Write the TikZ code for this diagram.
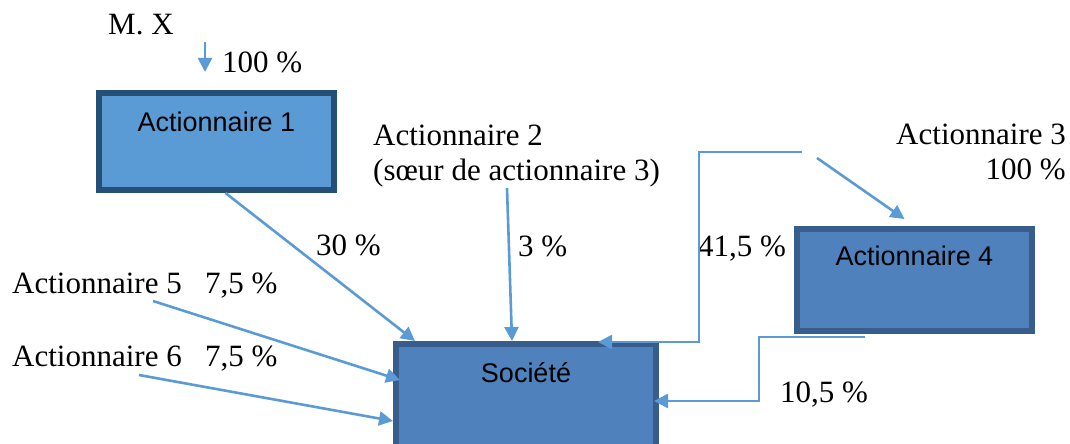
\documentclass[tikz,border=0pt]{standalone}
\usepackage{fontspec}
\setmainfont{Liberation Serif}
\newfontfamily\boxfont{Liberation Sans}
\usetikzlibrary{arrows.meta}
\definecolor{flowblue}{HTML}{5B9BD5}
\definecolor{lightfill}{HTML}{5B9BD5}
\definecolor{darkedge}{HTML}{264F78}
\definecolor{midfill}{HTML}{4F81BD}
\definecolor{midedge}{HTML}{385D8A}
\tikzset{
  flow/.style={draw=flowblue, line width=2.6pt, -{Triangle[length=14pt,width=14pt]}},
  txt/.style={font=\fontsize{31}{35}\selectfont, inner sep=0pt},
  box/.style={rectangle, line width=6pt, minimum width=235pt},
  boxtext/.style={anchor=base, yshift=-41pt, inner sep=0pt,
    font=\boxfont\fontsize{27}{30}\selectfont},
}

\begin{document}
\begin{tikzpicture}[x=1pt, y=-1pt]
      \useasboundingbox (0,0) rectangle (1070,444);

      \node[box, fill=lightfill, draw=darkedge, minimum height=97pt,
        label={[boxtext]north:Actionnaire 1}] (act1) at (216.5,141.5) {};
      \node[box, fill=midfill, draw=midedge, minimum height=102pt,
        label={[boxtext, yshift=2pt]north:Actionnaire 4}] (act4) at (914.5,280) {};
      \node[box, fill=midfill, draw=midedge, minimum width=260pt, minimum height=104pt,
        label={[boxtext]north:Société}] (soc) at (526,396) {};

      \node[txt, anchor=base west] (mx) at (108,35) {M. X};
      \node[txt, anchor=base west] (p100) at (222,72) {100~\%};
      \node[txt, anchor=north west, align=left] (act2) at (373,125)
        {Actionnaire 2\\(sœur de actionnaire 3)};
      \node[txt, anchor=north east, align=right] (act3) at (1066,124)
        {Actionnaire 3\\100~\%};
      \node[txt, anchor=base west] (act5) at (12,293) {Actionnaire 5~~~7,5~\%};
      \node[txt, anchor=base west] (act6) at (12,366) {Actionnaire 6~~~7,5~\%};

      \node[txt, anchor=base west] (p30) at (316,255) {30~\%};
      \node[txt, anchor=base west] (p3) at (518,256) {3~\%};
      \node[txt, anchor=base west] (p41) at (698,256) {41,5~\%};
      \node[txt, anchor=base west] (p10) at (780,402) {10,5~\%};

      \coordinate (mxa) at (205,42);
      \coordinate (mxb) at (205,72);
      \coordinate (a2) at (507,188);
      \coordinate (a3l) at (802,152);
      \coordinate (k41) at (699,342);
      \coordinate (a3r) at (817,158);
      \coordinate (a4b) at (865,337);
      \coordinate (k10) at (759,337);
      \coordinate (a5) at (153,301);
      \coordinate (a6) at (139,375);

      \draw[flow] (mxa) -- (mxb);
      \draw[flow] ([xshift=9pt]act1.south) -- ([xshift=22pt]soc.north west);
      \draw[flow] (a2) -- ([xshift=119pt]soc.north west);
      \draw[flow] (a3l) -| (k41) -- ([xshift=205pt,yshift=-1pt]soc.north west);
      \draw[flow] (a3r) -- ([xshift=-10pt,yshift=7pt]act4.north);
      \draw[flow] (a4b) -- (k10) |- ([xshift=-5pt,yshift=-5pt]soc.east);
      \draw[flow] (a5) -- ([xshift=7pt,yshift=16pt]soc.west);
      \draw[flow] (a6) -- ([yshift=-25pt]soc.west);
    \end{tikzpicture}
\end{document}
